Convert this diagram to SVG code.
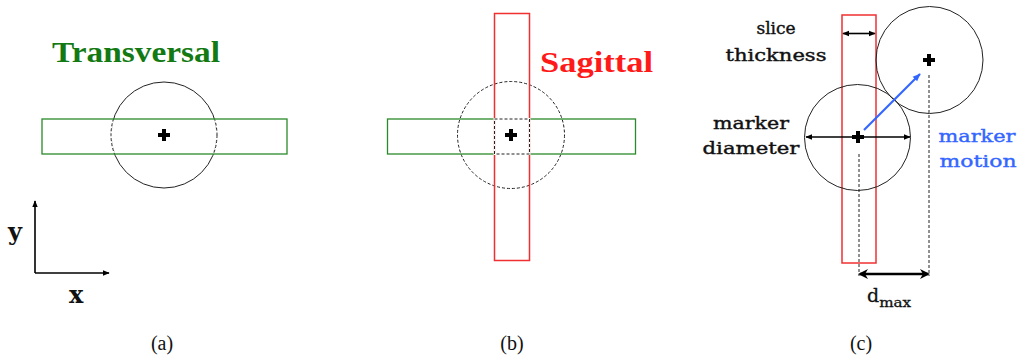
<svg xmlns="http://www.w3.org/2000/svg" width="1019" height="361" viewBox="0 0 1019 361">
<style>
.green{fill:none;stroke:#2a8a2a;stroke-width:1.3}
.red{fill:none;stroke:#f03030;stroke-width:1.5}
.circ{fill:none;stroke:#222;stroke-width:1}
.dash{fill:none;stroke:#222;stroke-width:1;stroke-dasharray:3 2}
.wh{fill:none;stroke:#fff;stroke-width:2}
.plus{stroke:#000;stroke-width:4;fill:none}
.arr{stroke:#000;stroke-width:1.6;fill:none}
.lbl{font-family:"DejaVu Serif","Liberation Serif",serif;font-size:17px;fill:#111;stroke:#111;stroke-width:0.4}
.title{font-family:"Liberation Serif","DejaVu Serif",serif;font-weight:bold;font-size:29px}
.cap{font-family:"Liberation Serif",serif;font-size:20px;fill:#111}
</style>
<defs>
<marker id="ah" viewBox="0 0 10 10" refX="9" refY="5" markerWidth="7" markerHeight="7" markerUnits="userSpaceOnUse" orient="auto-start-reverse"><path d="M0,1 L10,5 L0,9 z" fill="#000"/></marker>
<marker id="ahb" viewBox="0 0 10 10" refX="9" refY="5" markerWidth="8" markerHeight="8" markerUnits="userSpaceOnUse" orient="auto"><path d="M0,1 L10,5 L0,9 z" fill="#3366ff"/></marker>
<marker id="ahk" viewBox="0 0 10 10" refX="8" refY="5" markerWidth="10" markerHeight="10" markerUnits="userSpaceOnUse" orient="auto-start-reverse"><path d="M0,0 L10,5 L0,10 L3,5 z" fill="#000"/></marker>
<clipPath id="clipA"><rect x="42" y="119" width="245" height="35"/></clipPath>
</defs>

<g id="panel-a">
<text class="title" x="52" y="62" fill="#137a13" textLength="168" lengthAdjust="spacingAndGlyphs">Transversal</text>
<circle class="circ" cx="164" cy="135" r="53"/>
<circle class="wh" cx="164" cy="135" r="53" clip-path="url(#clipA)"/>
<circle class="dash" cx="164" cy="135" r="53" clip-path="url(#clipA)"/>
<rect class="green" x="42" y="119" width="245" height="35"/>
<path class="plus" d="M158,135 H170 M164,129 V141"/>
</g>

<g id="axes">
<line class="arr" x1="35" y1="273" x2="35" y2="201" marker-end="url(#ah)"/>
<line class="arr" x1="35" y1="273" x2="109" y2="273" marker-end="url(#ah)"/>
<text x="8" y="240" font-family="DejaVu Serif,Liberation Serif,serif" font-weight="bold" font-size="24" fill="#111">y</text>
<text x="69" y="303" font-family="DejaVu Serif,Liberation Serif,serif" font-weight="bold" font-size="24" fill="#111">x</text>
</g>

<g id="panel-b">
<text class="title" x="540" y="72" fill="#ff1a1a" textLength="113" lengthAdjust="spacingAndGlyphs">Sagittal</text>
<circle class="dash" cx="511" cy="135" r="53.5"/>
<rect class="green" x="387.5" y="119" width="248" height="35"/>
<rect class="red" x="494.5" y="13.5" width="35" height="247"/>
<rect class="wh" x="494.5" y="119" width="35" height="35"/>
<rect class="dash" x="494.5" y="119" width="35" height="35"/>
<path class="plus" d="M505,135 H517 M511,129 V141"/>
</g>

<g id="panel-c">
<rect class="red" x="842" y="15" width="34" height="248"/>
<circle class="circ" cx="857.5" cy="137.5" r="53"/>
<circle class="circ" cx="929.5" cy="60" r="53.5"/>
<path class="plus" d="M852,137 H864 M858,131 V143"/>
<path class="plus" d="M923,60 H935 M929,54 V66"/>
<text class="lbl" x="776" y="34" text-anchor="middle">slice</text>
<text class="lbl" x="776" y="61" text-anchor="middle" textLength="101" lengthAdjust="spacingAndGlyphs">thickness</text>
<text class="lbl" x="751" y="129" text-anchor="middle" textLength="76" lengthAdjust="spacingAndGlyphs">marker</text>
<text class="lbl" x="751" y="154" text-anchor="middle" textLength="97" lengthAdjust="spacingAndGlyphs">diameter</text>
<text class="lbl" x="977" y="142" text-anchor="middle" style="fill:#3366ff;stroke:#3366ff" textLength="77" lengthAdjust="spacingAndGlyphs">marker</text>
<text class="lbl" x="978" y="167" text-anchor="middle" style="fill:#3366ff;stroke:#3366ff" textLength="77" lengthAdjust="spacingAndGlyphs">motion</text>
<text x="867" y="302" font-family="DejaVu Serif,Liberation Serif,serif" font-size="19" fill="#111" stroke="#111" stroke-width="0.3">d<tspan font-size="12" dy="5" textLength="32" lengthAdjust="spacingAndGlyphs">max</tspan></text>
</g>

<g id="connectors">
<line class="arr" x1="843" y1="33.5" x2="875" y2="33.5" marker-start="url(#ah)" marker-end="url(#ah)"/>
<line class="arr" x1="806" y1="137" x2="910" y2="137" marker-start="url(#ah)" marker-end="url(#ah)"/>
<line x1="864" y1="130" x2="920" y2="74" stroke="#3366ff" stroke-width="2.2" marker-end="url(#ahb)"/>
<line class="dash" x1="859" y1="154" x2="859" y2="276"/>
<line class="dash" x1="929" y1="75" x2="929" y2="276"/>
<line x1="860" y1="274" x2="928" y2="274" stroke="#000" stroke-width="2.6" marker-start="url(#ahk)" marker-end="url(#ahk)"/>
</g>

<g id="captions">
<text class="cap" x="162" y="350" text-anchor="middle">(a)</text>
<text class="cap" x="512" y="350" text-anchor="middle">(b)</text>
<text class="cap" x="861" y="350" text-anchor="middle">(c)</text>
</g>
</svg>
